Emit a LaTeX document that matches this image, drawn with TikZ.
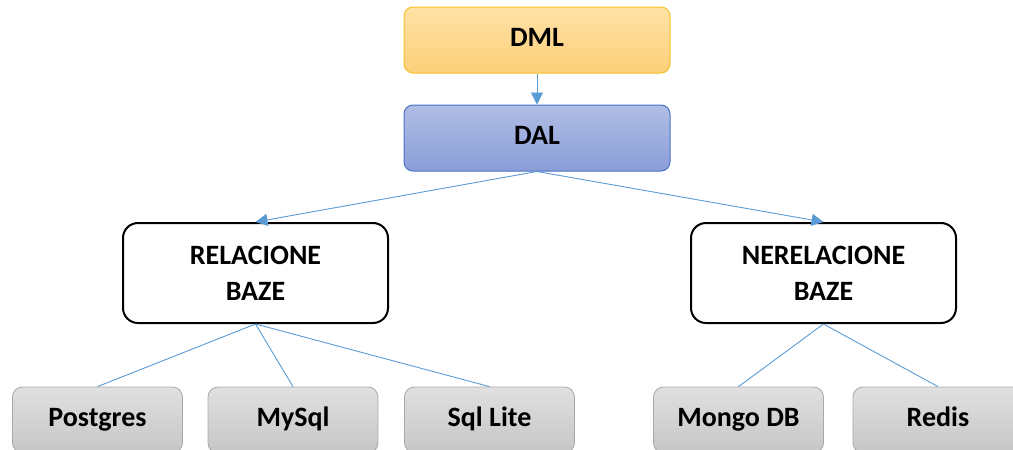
\documentclass[tikz,border=0pt]{standalone}
\usepackage{fontspec}
\setmainfont{Carlito}
\usetikzlibrary{arrows.meta}
\definecolor{lineblue}{HTML}{5B9BD5}
\definecolor{dmlborder}{HTML}{F6C02A}
\definecolor{dmltop}{HTML}{FFE2A6}
\definecolor{dmlbot}{HTML}{FDD07A}
\definecolor{dalborder}{HTML}{4A72C4}
\definecolor{daltop}{HTML}{B0BDE4}
\definecolor{dalbot}{HTML}{8A9ED8}
\definecolor{graytop}{HTML}{E0E0E0}
\definecolor{graybot}{HTML}{C6C6C6}
\definecolor{grayborder}{HTML}{A8A8A8}
\tikzset{
  lbl/.style={font=\bfseries\fontsize{28}{36}\selectfont, align=center, text=black},
  onel/.style={text height=19pt, text depth=6pt},
  topbox/.style={lbl, onel, rounded corners=9pt, minimum width=266pt, minimum height=66pt, line width=1pt},
  dmlbox/.style={topbox, draw=dmlborder, top color=dmltop, bottom color=dmlbot},
  dalbox/.style={topbox, draw=dalborder, top color=daltop, bottom color=dalbot},
  dbbox/.style={lbl, draw=black, fill=white, rounded corners=15pt, line width=2pt, minimum width=265pt, minimum height=100pt},
  leafbox/.style={lbl, onel, draw=grayborder, top color=graytop, bottom color=graybot, rounded corners=10pt, minimum width=170pt, minimum height=66pt, line width=0.8pt},
  conn/.style={draw=lineblue, line width=0.9pt},
  arr/.style={conn, -{Triangle[width=12pt,length=12pt]}, color=lineblue},
}
\begin{document}
\begin{tikzpicture}[x=1pt,y=-1pt]
\useasboundingbox (0,0) rectangle (1013,450);
\clip (0,0) rectangle (1013,450);
\node[dmlbox] (dml) at (537,40) {DML};
\node[dalbox] (dal) at (537,138) {DAL};
\node[dbbox] (rel) at (255.5,273) {RELACIONE\\BAZE};
\node[dbbox] (nerel) at (823.5,273) {NERELACIONE\\BAZE};
\node[leafbox] (pg) at (97.5,420) {Postgres};
\node[leafbox] (my) at (293,420) {MySql};
\node[leafbox] (sql) at (489.5,420) {Sql Lite};
\node[leafbox] (mongo) at (738.5,420) {Mongo DB};
\node[leafbox] (redis) at (938,420) {Redis};
\draw[arr] (dml.south) -- (dal.north);
\draw[arr] (dal.south) -- (rel.north);
\draw[arr] (dal.south) -- (nerel.north);
\draw[conn] (rel.south) -- (pg.north);
\draw[conn] (rel.south) -- (my.north);
\draw[conn] (rel.south) -- (sql.north);
\draw[conn] (nerel.south) -- (mongo.north);
\draw[conn] (nerel.south) -- (redis.north);
\end{tikzpicture}
\end{document}
